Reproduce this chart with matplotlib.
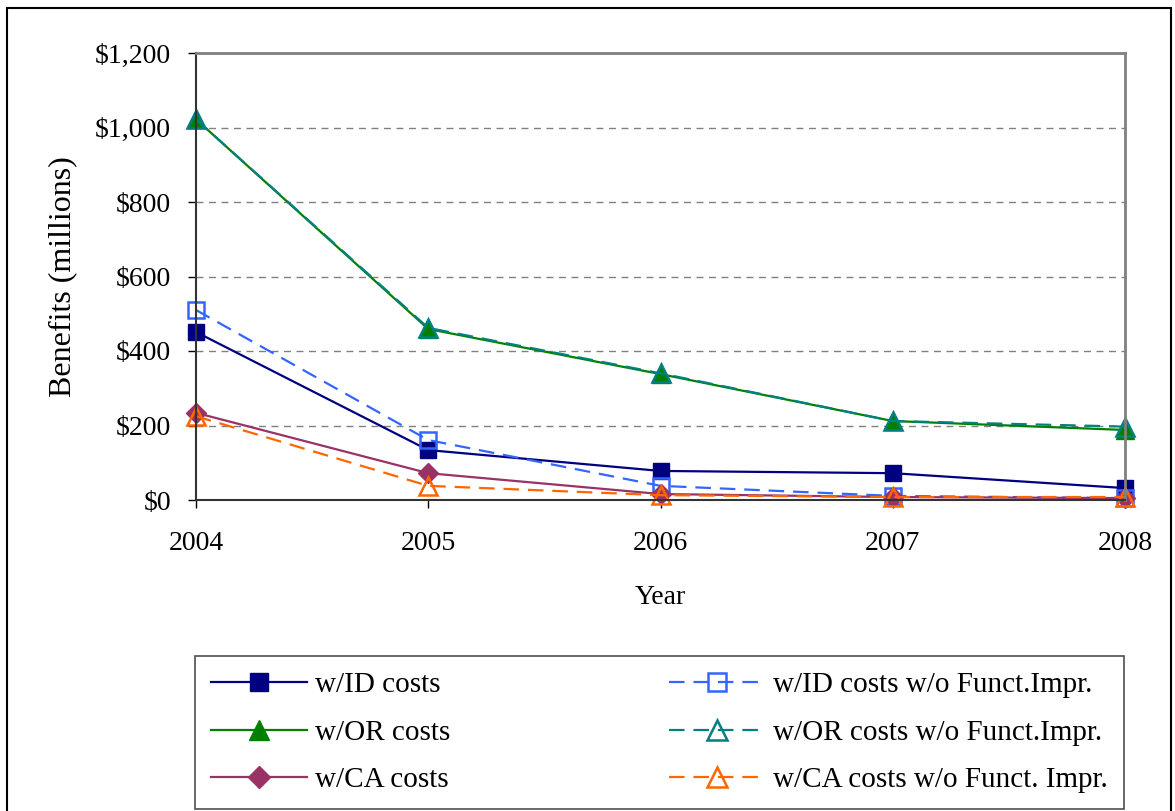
import matplotlib
matplotlib.use("Agg")
import matplotlib.pyplot as plt
import matplotlib.patches as mpatches
from matplotlib.ticker import FuncFormatter

plt.rcParams["font.family"] = ["Liberation Serif", "DejaVu Serif"]

# benefit curves, $ millions
years = [2004, 2005, 2006, 2007, 2008]
id_costs = [451, 134, 78, 72, 32]
id_costs_nofi = [510, 161, 38, 11, 5]
or_costs = [1022, 459, 338, 212, 188]
or_costs_nofi = [1022, 462, 340, 212, 197]
ca_costs = [234, 72, 16, 8, 5]
ca_costs_nofi = [225, 38, 13, 8, 8]

W, H = 1175, 811
fig = plt.figure(figsize=(W / 100, H / 100), dpi=100)
ax = fig.add_axes([196 / W, 1 - 500 / H, 929 / W, 447 / H])

dash = (0, (7, 4))
h_id, = ax.plot(years, id_costs, color="#000080", lw=1.6, marker="s", ms=12,
                mfc="#000080", mec="#000080", label="w/ID costs")
h_idn, = ax.plot(years, id_costs_nofi, color="#3366FF", lw=1.6, ls=dash,
                 marker="s", ms=12, mfc="none", mec="#3366FF", mew=1.8,
                 label="w/ID costs w/o Funct.Impr.")
h_or, = ax.plot(years, or_costs, color="#008000", lw=1.6, marker="^", ms=13,
                mfc="#008000", mec="#008000", label="w/OR costs")
h_orn, = ax.plot(years, or_costs_nofi, color="#008080", lw=1.6, ls=dash,
                 marker="^", ms=13, mfc="none", mec="#008080", mew=1.8,
                 label="w/OR costs w/o Funct.Impr.")
h_ca, = ax.plot(years, ca_costs, color="#993366", lw=1.6, marker="D", ms=10,
                mfc="#993366", mec="#993366", label="w/CA costs")
h_can, = ax.plot(years, ca_costs_nofi, color="#FF6600", lw=1.6, ls=dash,
                 marker="^", ms=13, mfc="none", mec="#FF6600", mew=1.8,
                 label="w/CA costs w/o Funct. Impr.")
for h in (h_id, h_idn, h_or, h_orn, h_ca, h_can):
    h.set_clip_on(False)

ax.set_xlim(2004, 2008)
ax.set_ylim(0, 1200)
ax.set_xticks(years)
ax.set_yticks(range(0, 1201, 200))
ax.yaxis.set_major_formatter(FuncFormatter(lambda v, p: f"${v:,.0f}"))
ax.tick_params(axis="both", labelsize=20, length=6, width=1, direction="out",
               color="black")
ax.tick_params(axis="y", pad=12)
ax.tick_params(axis="x", pad=16)

ax.yaxis.grid(True, ls=(0, (5, 4)), color="#808080", lw=1)
ax.set_axisbelow(True)
for s in ("top", "right"):
    ax.spines[s].set_color("#808080")
    ax.spines[s].set_linewidth(2)
for s in ("left", "bottom"):
    ax.spines[s].set_color("#333333")
    ax.spines[s].set_linewidth(1.5)

ax.set_xlabel("Year", fontsize=20, labelpad=21)
ax.set_ylabel("Benefits (millions)", fontsize=23, labelpad=13)

# column-major fill gives one solid / dashed pair per row
handles = [h_id, h_or, h_ca, h_idn, h_orn, h_can]
leg = fig.legend(handles=handles, ncol=2, fontsize=21, loc="upper left",
                 bbox_to_anchor=(195 / W, 1 - 656 / H),
                 bbox_transform=fig.transFigure, fancybox=False,
                 handlelength=3.3, handletextpad=0.27, borderpad=0.55,
                 labelspacing=0.72, columnspacing=7.5, borderaxespad=0,
                 markerscale=1.1)
leg.get_frame().set_edgecolor("#222222")
leg.get_frame().set_linewidth(1.2)

# outer chart border
fig.patches.append(mpatches.Rectangle((7 / W, -0.01), 1164 / W, 1.0,
                                      transform=fig.transFigure, fill=False,
                                      edgecolor="black", lw=1.5))

fig.savefig("out.png", dpi=100, facecolor="white")
